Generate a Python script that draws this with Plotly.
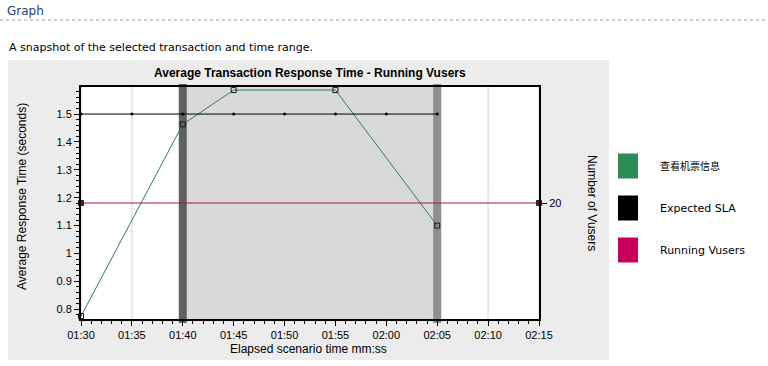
import plotly.graph_objects as go

# ---------------- data ----------------
tick_labels = ["01:30", "01:35", "01:40", "01:45", "01:50", "01:55", "02:00", "02:05", "02:10", "02:15"]
resp_times = ["01:30", "01:40", "01:45", "01:55", "02:05"]
resp_values = [0.775, 1.463, 1.586, 1.586, 1.100]
sla_times = ["01:30", "01:35", "01:40", "01:45", "01:50", "01:55", "02:00", "02:05"]
sla_values = [1.5, 1.5, 1.5, 1.5, 1.5, 1.5, 1.5, 1.5]
vusers_times = ["01:30", "02:15"]
vusers_values = [20, 20]
selection = ["01:40", "02:05"]
legend_names = ["查看机票信息", "Expected SLA", "Running Vusers"]
legend_colors = ["#2e8b57", "#000000", "#c70058"]


def sec(s):
    m, ss = s.split(":")
    return int(m) * 60 + int(ss)


# ---------------- layout helpers (pixel -> paper) ----------------
W, H = 768, 366
L, R, T, B = 81, 229, 87, 47
PW, PH = W - L - R, H - T - B
x_lo, x_hi = sec(tick_labels[0]), sec(tick_labels[-1])


def px(p):
    return (p - L) / PW


def py(p):
    return (H - B - p) / PH


def dsec(npx):
    return npx * (x_hi - x_lo) / PW


fig = go.Figure()

fig.add_trace(go.Scatter(
    x=[sec(t) for t in resp_times], y=resp_values, mode="lines+markers",
    line=dict(color="#2f7a66", width=1),
    marker=dict(symbol="square-open", size=5, color="#1a1a1a", line=dict(width=1)),
    name=legend_names[0], showlegend=False, cliponaxis=False))

fig.add_trace(go.Scatter(
    x=[sec(t) for t in sla_times], y=sla_values, mode="lines+markers",
    line=dict(color="#000000", width=1),
    marker=dict(symbol="circle", size=3, color="#000000"),
    name=legend_names[1], showlegend=False))

fig.add_trace(go.Scatter(
    x=[sec(t) for t in vusers_times], y=vusers_values, mode="lines+markers",
    line=dict(color="#a3174f", width=1),
    marker=dict(symbol="square", size=5, color="#6a1030", line=dict(color="#222", width=1)),
    name=legend_names[2], yaxis="y2", showlegend=False, cliponaxis=False))

shapes = []
# gray chart panel
shapes.append(dict(type="rect", xref="paper", yref="paper", x0=px(8), x1=px(609), y0=py(360), y1=py(60),
                   fillcolor="#ececec", line=dict(width=0), layer="below"))
# white plot area
shapes.append(dict(type="rect", xref="paper", yref="paper", x0=0, x1=1, y0=0, y1=1,
                   fillcolor="#ffffff", line=dict(width=0), layer="below"))
# vertical grid lines (drawn as shapes so the selection covers them)
for t in tick_labels:
    shapes.append(dict(type="line", xref="x", yref="paper", x0=sec(t), x1=sec(t), y0=0, y1=1,
                       line=dict(color="#d4d4d4", width=1), layer="below"))
# dotted separator under header
shapes.append(dict(type="line", xref="paper", yref="paper", x0=px(0), x1=px(768), y0=py(20), y1=py(20),
                   line=dict(color="#a0a0a0", width=1, dash="dot")))
# selected time range
x0s, x1s = sec(selection[0]), sec(selection[1])
shapes.append(dict(type="rect", xref="x", yref="paper", x0=x0s, x1=x1s, y0=0, y1=1,
                   fillcolor="#d9d9d9", line=dict(width=0), layer="between"))
hw = dsec(4)
shapes.append(dict(type="rect", xref="x", yref="paper", x0=x0s - hw, x1=x0s + hw, y0=py(323), y1=py(84),
                   fillcolor="#606060", line=dict(width=0), layer="between"))
shapes.append(dict(type="rect", xref="x", yref="paper", x0=x1s - hw, x1=x1s + hw, y0=py(323), y1=py(84),
                   fillcolor="#8f8f8f", line=dict(width=0), layer="between"))
# legend swatches
legend_y = [166, 208, 250]
for yc, col in zip(legend_y, legend_colors):
    shapes.append(dict(type="rect", xref="paper", yref="paper", x0=px(618), x1=px(638),
                       y0=py(yc + 12.5), y1=py(yc - 12.5), fillcolor=col, line=dict(width=0)))

label_font = dict(family="Liberation Sans, Arial", size=12, color="#000000")
annotations = []
annotations.append(dict(text="Graph", xref="paper", yref="paper", x=px(5), y=py(11), xanchor="left",
                        yanchor="middle", showarrow=False,
                        font=dict(family="DejaVu Sans", size=12, color="#1e3f73")))
annotations.append(dict(text="A snapshot of the selected transaction and time range.", xref="paper", yref="paper",
                        x=px(7), y=py(48), xanchor="left", yanchor="middle", showarrow=False,
                        font=dict(family="DejaVu Sans", size=11, color="#000000")))
annotations.append(dict(text="<b>Average Transaction Response Time - Running Vusers</b>", xref="paper",
                        yref="paper", x=px(310), y=py(73), xanchor="center", yanchor="middle", showarrow=False,
                        font=label_font))
annotations.append(dict(text="Number of Vusers", xref="paper", yref="paper", x=px(592), y=py(203),
                        xanchor="center", yanchor="middle", textangle=90, showarrow=False, font=label_font))
annotations.append(dict(text="Average Response Time (seconds)", xref="paper", yref="paper", x=px(22), y=py(197),
                        xanchor="center", yanchor="middle", textangle=-90, showarrow=False, font=label_font))
annotations.append(dict(text="Elapsed scenario time mm:ss", xref="paper", yref="paper", x=px(308), y=py(349),
                        xanchor="center", yanchor="middle", showarrow=False, font=label_font))
legend_sizes = [10, 11, 11]
for yc, name, fs in zip(legend_y, legend_names, legend_sizes):
    annotations.append(dict(text=name, xref="paper", yref="paper", x=px(658), y=py(yc), xanchor="left",
                            yanchor="middle", showarrow=False,
                            font=dict(family="DejaVu Sans, Noto Sans CJK SC", size=fs, color="#000000")))

axis_font = dict(family="Liberation Sans, Arial", size=11, color="#000000")
fig.update_layout(
    width=W, height=H,
    margin=dict(l=L, r=R, t=T, b=B, autoexpand=False),
    paper_bgcolor="#ffffff", plot_bgcolor="rgba(0,0,0,0)",
    font=dict(color="#000000"),
    showlegend=False,
    shapes=shapes, annotations=annotations,
    xaxis=dict(
        range=[x_lo, x_hi],
        tickvals=[sec(t) for t in tick_labels], ticktext=tick_labels,
        tickfont=axis_font, ticks="outside", ticklen=5, tickcolor="#000",
        minor=dict(dtick=1, ticks="outside", ticklen=3, tickcolor="#000", showgrid=False),
        showgrid=False,
        showline=True, linecolor="#000", linewidth=2, mirror=True, zeroline=False,
    ),
    yaxis=dict(
        range=[0.765, 1.597],
        tickvals=[0.8, 0.9, 1.0, 1.1, 1.2, 1.3, 1.4, 1.5],
        ticktext=["0.8", "0.9", "1", "1.1", "1.2", "1.3", "1.4", "1.5"],
        tickfont=axis_font, ticks="outside", ticklen=5, tickcolor="#000",
        minor=dict(dtick=0.02, tick0=0.8, ticks="outside", ticklen=3, tickcolor="#000", showgrid=False),
        showgrid=False, showline=True, linecolor="#000", linewidth=2, mirror=True, zeroline=False,
    ),
    yaxis2=dict(
        overlaying="y", side="right", range=[0, 40], tickvals=[20], ticktext=["20"],
        tickfont=axis_font, ticks="outside", ticklen=6, tickcolor="#000",
        showgrid=False, showline=True, linecolor="#000", linewidth=2, zeroline=False,
    ),
)

fig.write_html("out.html", config={"displayModeBar": False},
               post_script="document.body.style.margin='0';")
